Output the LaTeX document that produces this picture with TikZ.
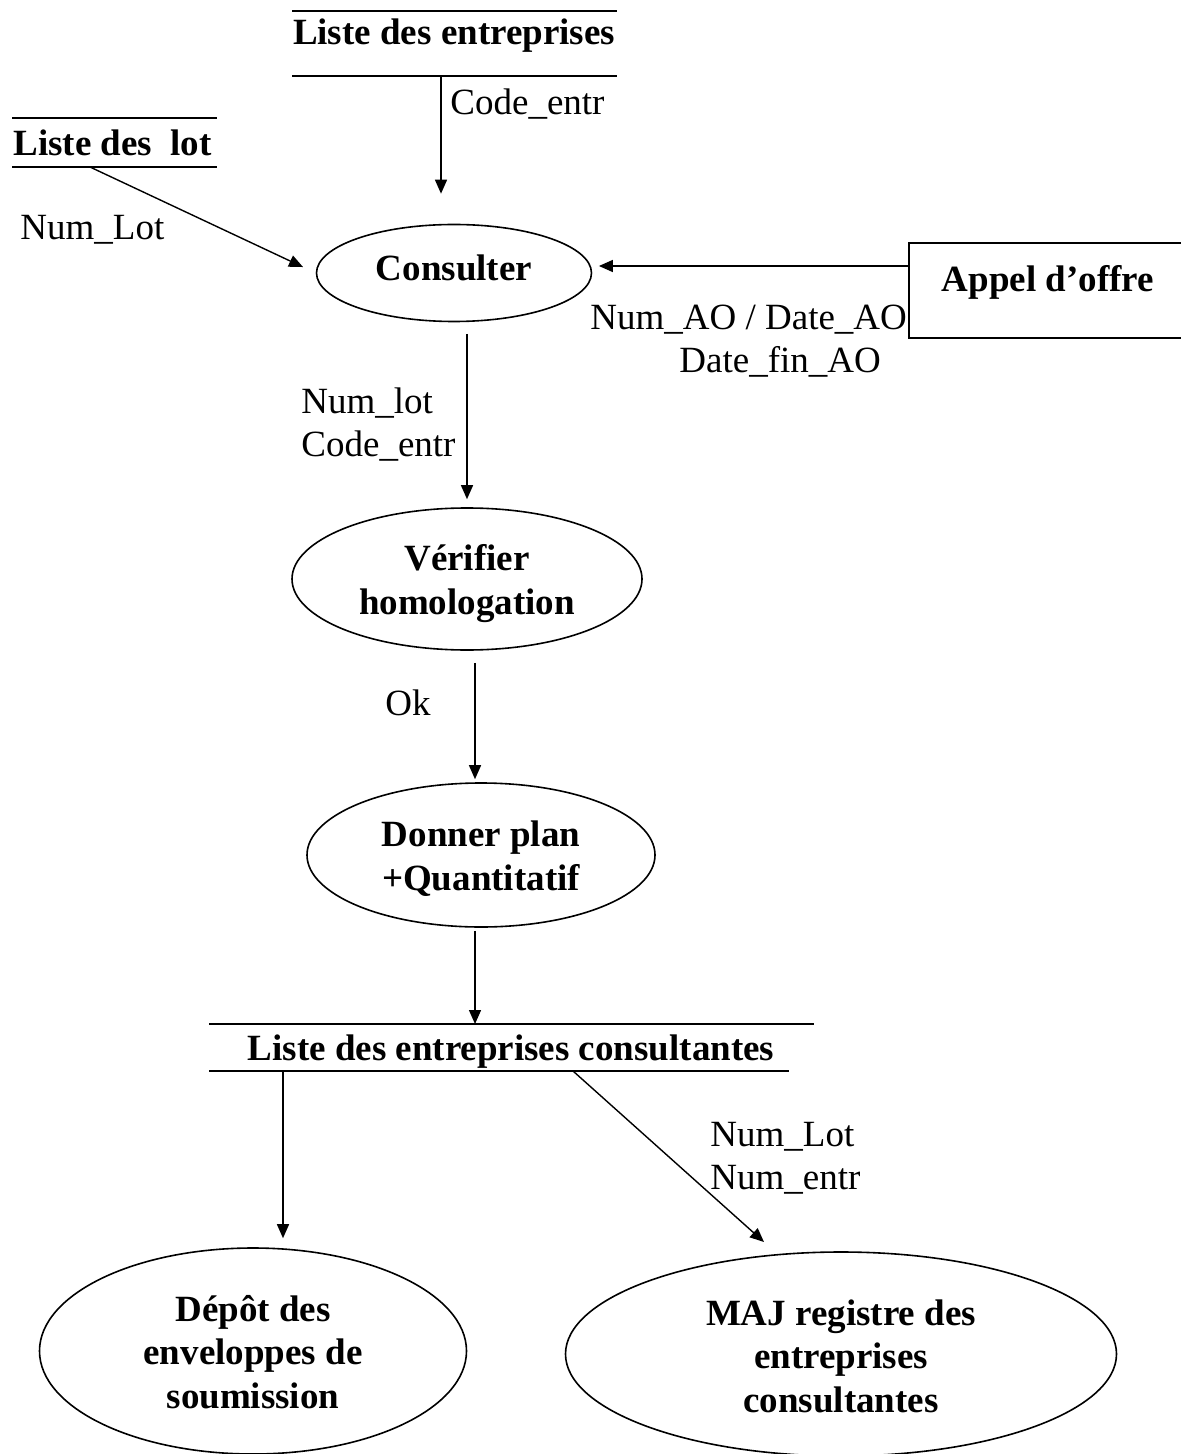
\documentclass[tikz,border=0pt]{standalone}
\usepackage{fontspec}
\setmainfont{Liberation Serif}
\usetikzlibrary{arrows.meta,shapes.geometric,calc}
% centred lines of a process, shifted up by #1 inside their ellipse
\newcommand\proclines[2]{\raisebox{#1}[\height][\depth]{\begin{tabular}{@{}c@{}}#2\end{tabular}}}
\begin{document}
\begin{tikzpicture}[x=0.5pt,y=-0.5pt,
  txt/.style={inner sep=0pt,font=\fontsize{18.5}{21.7}\selectfont},
  proc/.style={ellipse,draw,line width=0.8pt,inner sep=0pt,align=center,
    font=\fontsize{18.5}{21.7}\selectfont\bfseries},
  storetext/.style={inner sep=0pt,font=\fontsize{18.5}{21.7}\selectfont\bfseries},
  storeline/.style={line width=0.8pt},
  flow/.style={line width=0.7pt,-{Triangle[length=7pt,width=6pt]}},
  lbl/.style={txt,align=left,anchor=base west}]
\useasboundingbox (0,0) rectangle (1181,1454);

% data stores (open rectangles)
\node[storetext,anchor=base] (entr) at (454,45) {Liste des entreprises};
\coordinate (entrTL) at (292,11);  \coordinate (entrTR) at (617,11);
\coordinate (entrBL) at (292,76);  \coordinate (entrBR) at (617,76);
\draw[storeline] (entrTL) -- (entrTR);
\draw[storeline] (entrBL) -- (entrBR);

\node[storetext,anchor=base west] (lots) at (13,156) {Liste des\ \ lot};
\coordinate (lotsTL) at (12,118);  \coordinate (lotsTR) at (217,118);
\coordinate (lotsBL) at (12,167);  \coordinate (lotsBR) at (217,167);
\draw[storeline] (lotsTL) -- (lotsTR);
\draw[storeline] (lotsBL) -- (lotsBR);

\node[storetext,anchor=base] (cons) at (511,1060) {Liste des entreprises consultantes};
\coordinate (consTL) at (209,1024); \coordinate (consTR) at (814,1024);
\coordinate (consBL) at (209,1071); \coordinate (consBR) at (789,1071);
\draw[storeline] (consTL) -- (consTR);
\draw[storeline] (consBL) -- (consBR);

% external entity
\node[draw,line width=0.8pt,minimum width=150pt,minimum height=47.5pt,inner sep=0pt]
  (ao) at (1059,290.5) {};
\node[storetext,anchor=base] (aotxt) at (1048,292) {Appel d’offre};

% processes
\node[proc,minimum width=137.5pt,minimum height=48.5pt] (consulter) at (454,273) {\proclines{0.5pt}{Consulter}};
\node[proc,minimum width=175pt,minimum height=71pt] (verif) at (467,579) {\proclines{-2.5pt}{Vérifier\\homologation}};
\node[proc,minimum width=174pt,minimum height=72pt] (donner) at (481,855) {\proclines{-2.5pt}{Donner plan\\+Quantitatif}};
\node[proc,minimum width=213.5pt,minimum height=103pt] (depot) at (253,1351) {\proclines{-2.5pt}{Dépôt des\\enveloppes de\\soumission}};
\node[proc,minimum width=275.5pt,minimum height=102pt] (maj) at (841,1354) {\proclines{-3pt}{MAJ registre des\\entreprises\\consultantes}};

% flows
\coordinate (e1) at (441,76);
\draw[flow,shorten >=15pt] (e1) -- (e1 |- consulter.north);
\node[lbl] (l1) at (450,115) {Code\_entr};

\coordinate (l1s) at (90,167);
\draw[flow,shorten >=7pt] (l1s) -- (consulter.west);
\node[lbl] (l2) at (20,240) {Num\_Lot};

\coordinate (aoy) at (0,266);
\draw[flow,shorten >=3.3pt] (ao.west |- aoy) -- (consulter.east |- aoy);
\node[lbl] (l3) at (590,330) {Num\_AO / Date\_AO};
\node[lbl] (l4) at (679,373) {Date\_fin\_AO};

\draw[flow,shorten <=5.8pt,shorten >=4pt] (consulter.south -| verif.north) -- (verif.north);
\node[lbl] (l5) at (301,414) {Num\_lot};
\node[lbl] (l6) at (301,456) {Code\_entr};

\coordinate (x2) at (475,0);
\draw[flow,shorten <=6pt,shorten >=1.5pt] (verif.south -| x2) -- (donner.north -| x2);
\node[lbl] (l7) at (385,715) {Ok};

\draw[flow,shorten <=1.5pt] (donner.south -| x2) -- (consTL -| x2);

\coordinate (x3) at (283,0);
\draw[flow,shorten >=4.5pt] (consBL -| x3) -- (depot.north -| x3);

\coordinate (m1s) at (573,1071);
\coordinate (m1t) at (764,1242);
\draw[flow] (m1s) -- (m1t);
\node[lbl] (l8) at (710,1146) {Num\_Lot};
\node[lbl] (l9) at (710,1189) {Num\_entr};
\end{tikzpicture}
\end{document}
